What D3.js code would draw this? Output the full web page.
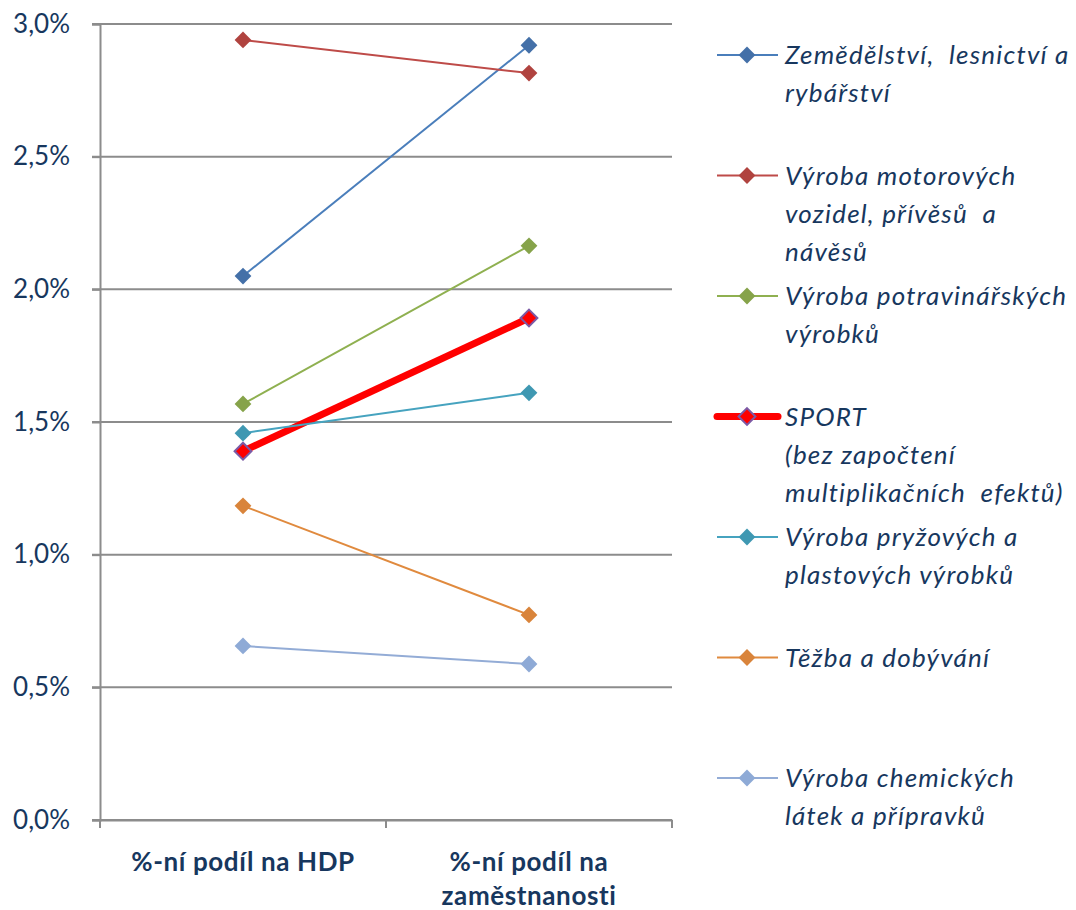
<!DOCTYPE html>
<meta charset="utf-8">
<head>
<style type="text/css">
  body { margin: 0; background: #fff; }
  .tick text { font-family: Lato, "Open Sans", sans-serif; fill: #17375e; }
  .legend text { font-family: Lato, "Open Sans", sans-serif; font-style: italic; fill: #17375e; }
</style>
</head>
<script src="https://d3js.org/d3.v7.min.js"></script>
<body>
<div id="vis"></div>
<script>
// data
var categories = ["%-ní podíl na HDP", "%-ní podíl na zaměstnanosti"];
var catLines = [["%-ní podíl na HDP"], ["%-ní podíl na", "zaměstnanosti"]];
var seriesNames = [
  ["Zemědělství,  lesnictví a", "rybářství"],
  ["Výroba motorových", "vozidel, přívěsů  a", "návěsů"],
  ["Výroba potravinářských", "výrobků"],
  ["SPORT", "(bez započtení", "multiplikačních  efektů)"],
  ["Výroba pryžových a", "plastových výrobků"],
  ["Těžba a dobývání"],
  ["Výroba chemických", "látek a přípravků"]
];
var zemedelstvi = [2.05, 2.92];
var motorova = [2.94, 2.815];
var potraviny = [1.568, 2.164];
var sport = [1.39, 1.892];
var pryz = [1.458, 1.61];
var tezba = [1.184, 0.773];
var chemie = [0.656, 0.588];
var yTicks = [0, 0.5, 1, 1.5, 2, 2.5, 3];

var allSeries = [zemedelstvi, motorova, potraviny, sport, pryz, tezba, chemie];
var lineColors = ["#4a7ebb", "#be4b48", "#8fb050", "#ff0000", "#46a3bf", "#e08a3e", "#93acd6"];
var markColors = ["#4470a8", "#b0433f", "#86a34a", "#ff0000", "#3f98b2", "#d9843b", "#8eaad6"];

var width = 1076, height = 910;
var margin = {top: 24, left: 100, bottom: 90, right: 404};
var chartWidth = width - margin.left - margin.right,
    chartHeight = height - margin.top - margin.bottom;

var svg = d3.select("#vis").append("svg")
    .attr("width", width).attr("height", height);
var g = svg.append("g")
    .attr("transform", "translate(" + margin.left + "," + margin.top + ")");

var x = d3.scaleBand().domain(categories).range([0, chartWidth]);
var y = d3.scaleLinear().domain([0, 3]).range([chartHeight, 0]);

// gridlines
g.selectAll(".grid").data(yTicks).enter().append("line")
    .attr("x1", -8).attr("x2", chartWidth)
    .attr("y1", function(d) { return y(d); })
    .attr("y2", function(d) { return y(d); })
    .attr("stroke", "#8c8c8c").attr("stroke-width", 2);

// y axis
var yAxis = g.append("g")
    .call(d3.axisLeft(y).tickValues(yTicks).tickSize(8).tickPadding(22)
      .tickFormat(function(d) { return d3.format(".1f")(d).replace(".", ",") + "%"; }));
yAxis.select(".domain").attr("stroke", "#8c8c8c").attr("stroke-width", 2);
yAxis.selectAll(".tick line").attr("stroke", "#8c8c8c").attr("stroke-width", 2);
yAxis.selectAll(".tick text").attr("font-size", "26px");

// x axis
var xAxis = g.append("g")
    .attr("transform", "translate(0," + chartHeight + ")")
    .call(d3.axisBottom(x).tickSize(0).tickFormat(""));
xAxis.select(".domain").attr("stroke", "#8c8c8c").attr("stroke-width", 2);
var xTickPos = [0, x.bandwidth(), chartWidth];
xAxis.selectAll(".xt").data(xTickPos).enter().append("line")
    .attr("x1", function(d) { return d; }).attr("x2", function(d) { return d; })
    .attr("y1", 0).attr("y2", 8)
    .attr("stroke", "#8c8c8c").attr("stroke-width", 2);
categories.forEach(function(c, i) {
  var t = g.append("text")
      .attr("x", x(c) + x.bandwidth() / 2)
      .attr("y", chartHeight + 51)
      .attr("text-anchor", "middle")
      .attr("font-family", "Lato, 'Open Sans', sans-serif")
      .attr("font-weight", "bold")
      .attr("font-size", "26px")
      .attr("letter-spacing", "0.6px")
      .attr("fill", "#17375e");
  catLines[i].forEach(function(l, j) {
    t.append("tspan").attr("x", x(c) + x.bandwidth() / 2).attr("dy", j ? 34 : 0).text(l);
  });
});

var line = d3.line()
    .x(function(d, i) { return x(categories[i]) + x.bandwidth() / 2; })
    .y(function(d) { return y(d); });

var diamond = d3.symbol().type(d3.symbolDiamond2).size(180);

allSeries.forEach(function(s, k) {
  var isSport = k === 3;
  g.append("path").datum(s)
      .attr("d", line)
      .attr("fill", "none")
      .attr("stroke", lineColors[k])
      .attr("stroke-width", isSport ? 7 : 2);
  g.selectAll(".m" + k).data(s).enter().append("path")
      .attr("d", diamond)
      .attr("transform", function(d, i) {
        return "translate(" + (x(categories[i]) + x.bandwidth() / 2) + "," + y(d) + ")";
      })
      .attr("fill", markColors[k])
      .attr("stroke", isSport ? "#7b5aa6" : "none")
      .attr("stroke-width", isSport ? 2 : 0);
});

// legend
var legend = svg.append("g").attr("class", "legend");
var legTop = 55, legStep = 120.5, lineH = 38;
seriesNames.forEach(function(names, k) {
  var isSport = k === 3;
  var ly = legTop + k * legStep;
  legend.append("line")
      .attr("x1", 717).attr("x2", 778).attr("y1", ly).attr("y2", ly)
      .attr("stroke", lineColors[k])
      .attr("stroke-width", isSport ? 7 : 2)
      .attr("stroke-linecap", isSport ? "round" : "butt");
  legend.append("path")
      .attr("d", diamond)
      .attr("transform", "translate(747," + ly + ")")
      .attr("fill", markColors[k])
      .attr("stroke", isSport ? "#7b5aa6" : "none")
      .attr("stroke-width", isSport ? 2 : 0);
  var t = legend.append("text")
      .attr("x", 785).attr("y", ly + 9)
      .attr("font-size", "26px")
      .attr("letter-spacing", "1.2px");
  names.forEach(function(n, j) {
    t.append("tspan").attr("x", 785).attr("dy", j ? lineH : 0)
      .style("white-space", "pre").text(n);
  });
});
</script>
</body>
